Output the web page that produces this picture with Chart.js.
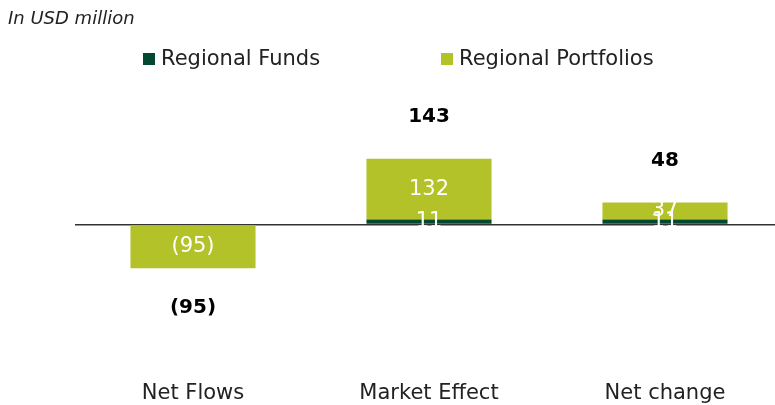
<!DOCTYPE html>
<html>
<head>
<meta charset="utf-8">
<script src="https://cdn.jsdelivr.net/npm/chart.js@4"></script>
<style>
    html, body { margin: 0; padding: 0; background: #fff; overflow: hidden; }
    #wrap { width: 775px; height: 405px; overflow: hidden; }
</style>
</head>
<body>
<div id="wrap"><canvas id="flows-chart" width="785" height="405"></canvas></div>
<script>
/* ── 数据 ── */
const categories = ['Net Flows', 'Market Effect', 'Net change'];
const regionalFunds = [0, 11, 11];
const regionalPortfolios = [-95, 132, 37];
const totals = [-95, 143, 48];

const FONT = '"DejaVu Sans", sans-serif';
const DARK_GREEN = '#034831';
const LIGHT_GREEN = '#b2c228';

// 括号表示负数
const fmt = v => (v < 0 ? '(' + Math.abs(v) + ')' : String(v));

/* ── 图例（手动绘制，两项间距较大） ── */
const legendX = [143, 441];
const topLegend = {
    id: 'topLegend',
    afterDraw(chart) {
        const ctx = chart.ctx;
        ctx.save();
        ctx.font = '21px ' + FONT;
        ctx.textBaseline = 'middle';
        ctx.textAlign = 'left';
        chart.data.datasets.forEach((ds, i) => {
            const x = legendX[i];
            ctx.fillStyle = ds.backgroundColor;
            ctx.fillRect(x, 53, 12, 12);
            ctx.fillStyle = '#222';
            ctx.fillText(ds.label, x + 18, 60);
        });
        ctx.restore();
    },
};

/* ── 数值标签插件 ── */
const valueLabels = {
    id: 'valueLabels',
    afterDatasetsDraw(chart) {
        const ctx = chart.ctx;
        ctx.save();
        ctx.textAlign = 'center';
        ctx.textBaseline = 'middle';

        // 每段中间的白色数字
        ctx.font = '21px ' + FONT;
        ctx.fillStyle = '#fff';
        chart.data.datasets.forEach((ds, i) => {
            const meta = chart.getDatasetMeta(i);
            meta.data.forEach((bar, j) => {
                const v = ds.data[j];
                if (!v) return;
                ctx.fillText(fmt(v), bar.x, (bar.y + bar.base) / 2);
            });
        });

        // 合计值：正数在柱上方，负数在柱下方
        const yScale = chart.scales.y;
        const xScale = chart.scales.x;
        ctx.font = 'bold 20px ' + FONT;
        ctx.fillStyle = '#000';
        totals.forEach((t, j) => {
            const x = xScale.getPixelForValue(j);
            const y = yScale.getPixelForValue(t) + (t < 0 ? 40 : -42);
            ctx.fillText(fmt(t), x, y);
        });
        ctx.restore();
    },
};

new Chart(document.getElementById('flows-chart'), {
    type: 'bar',
    data: {
        labels: categories,
        datasets: [
            { label: 'Regional Funds', data: regionalFunds, backgroundColor: DARK_GREEN },
            { label: 'Regional Portfolios', data: regionalPortfolios, backgroundColor: LIGHT_GREEN },
        ],
    },
    options: {
        responsive: false,
        animation: false,
        layout: { padding: { left: 8, right: 2, top: 0, bottom: -15 } },
        barPercentage: 0.53,
        categoryPercentage: 1,
        plugins: {
            title: {
                display: true,
                text: 'In USD million',
                align: 'start',
                color: '#222',
                font: { family: FONT, size: 18, style: 'italic', weight: 'normal' },
                padding: { top: 9, bottom: 49 },
            },
            legend: { display: false },
            tooltip: { enabled: false },
        },
        scales: {
            x: {
                stacked: true,
                grid: { display: false },
                border: { display: false },
                ticks: { color: '#222', padding: 14, font: { family: FONT, size: 21 } },
            },
            y: {
                stacked: true,
                min: -292,
                max: 315,
                afterFit: s => { s.width = 67; },
                // 只保留零线
                afterBuildTicks: s => { s.ticks = [{ value: 0 }]; },
                border: { display: false },
                ticks: { display: false },
                grid: {
                    drawTicks: false,
                    lineWidth: 1.5,
                    color: '#333',
                },
            },
        },
    },
    plugins: [valueLabels, topLegend],
});
</script>
</body>
</html>
